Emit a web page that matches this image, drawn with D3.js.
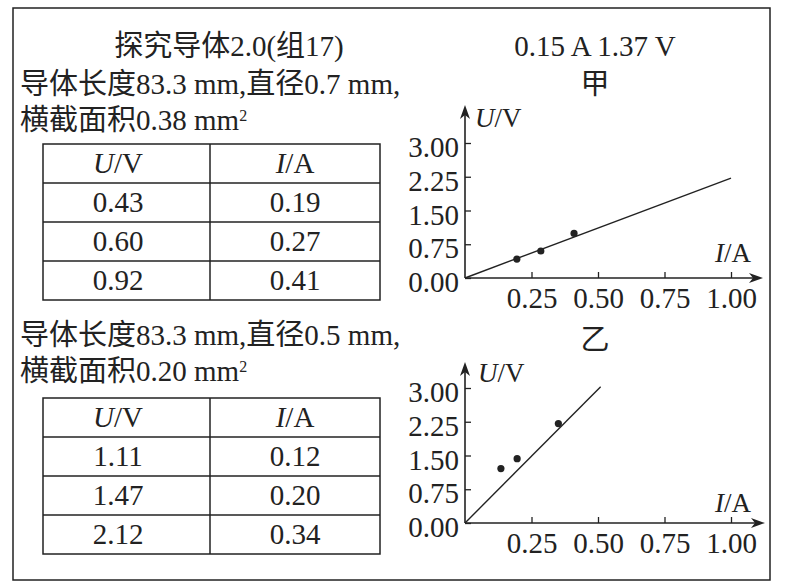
<!DOCTYPE html>
<html>
<head>
<meta charset="utf-8">
<script src="https://cdn.jsdelivr.net/npm/d3@7"></script>
<style>
  body { margin: 0; background: #fff; }
  text {
    font-family: "Liberation Serif", "Noto Sans CJK SC", serif;
    font-size: 29px;
    fill: #222;
  }
  .axis text { font-size: 29px; }
  .axis-title { font-size: 27px; }
</style>
</head>
<body>
<svg id="fig"></svg>
<script>
// Set svg size.
const width = 786;
const height = 588;

// Tick values shared by both plots.
const xTicks = [0.25, 0.50, 0.75, 1.00];
const yTicks = [0.00, 0.75, 1.50, 2.25, 3.00];

// Table header: italic symbol + unit.
const tableHeaders = [["U", "/V"], ["I", "/A"]];

// Group 甲 (diameter 0.7 mm), points as plotted in the figure.
const tableA_U = ["0.43", "0.60", "0.92"];
const tableA_I = ["0.19", "0.27", "0.41"];
const pointsA_I = [0.195, 0.285, 0.41];
const pointsA_U = [0.42, 0.60, 0.99];
const fitA_I = [0, 1.00];
const fitA_U = [0, 2.22];

// Group 乙 (diameter 0.5 mm), points as plotted in the figure.
const tableB_U = ["1.11", "1.47", "2.12"];
const tableB_I = ["0.12", "0.20", "0.34"];
const pointsB_I = [0.135, 0.196, 0.351];
const pointsB_U = [1.21, 1.43, 2.21];
const fitB_I = [0, 0.51];
const fitB_U = [0, 3.03];

// Text lines.
const titleText = "探究导体2.0(组17)";
const readingText = "0.15 A 1.37 V";
const descA = ["导体长度83.3 mm,直径0.7 mm,", "横截面积0.38 mm"];
const descB = ["导体长度83.3 mm,直径0.5 mm,", "横截面积0.20 mm"];
const chartNames = ["甲", "乙"];

const ink = "#222";

// Select svg.
const svg = d3.select("#fig")
  .attr("width", width)
  .attr("height", height);

/*
 * Returns a translate string for the transform attribute.
 */
function translate(x, y) {
  return "translate(" + String(x) + "," + String(y) + ")";
}

// Outer frame.
svg.append("rect")
  .attr("x", 13)
  .attr("y", 8)
  .attr("width", 757)
  .attr("height", 572)
  .attr("fill", "none")
  .attr("stroke", ink)
  .attr("stroke-width", 1.5);

drawHeadings();
drawDescription(descA, 94);
drawDescription(descB, 345);
drawTable(144, tableA_U, tableA_I);
drawTable(398, tableB_U, tableB_I);

drawChart({
  name: chartNames[0], nameY: 94,
  originY: 278, yTip: 105, xTip: 763,
  pointsI: pointsA_I, pointsU: pointsA_U,
  fitI: fitA_I, fitU: fitA_U,
  uTitle: [475, 127], iTitle: [715, 262]
});

drawChart({
  name: chartNames[1], nameY: 350,
  originY: 523, yTip: 362, xTip: 765,
  pointsI: pointsB_I, pointsU: pointsB_U,
  fitI: fitB_I, fitU: fitB_U,
  uTitle: [478, 382], iTitle: [715, 512]
});

/*
 * Title and the meter reading at the top.
 */
function drawHeadings() {
  svg.append("text")
    .attr("x", 229)
    .attr("y", 56)
    .attr("text-anchor", "middle")
    .text(titleText);

  svg.append("text")
    .attr("x", 595)
    .attr("y", 56)
    .attr("text-anchor", "middle")
    .text(readingText);
}

/*
 * Two description lines, second one ends with a squared unit.
 */
function drawDescription(lines, baseline) {
  svg.append("text")
    .attr("x", 20)
    .attr("y", baseline)
    .text(lines[0]);

  let second = svg.append("text")
    .attr("x", 20)
    .attr("y", baseline + 36);
  second.append("tspan").text(lines[1]);
  second.append("tspan")
    .attr("dy", -9)
    .style("font-size", "16px")
    .text("2");
}

/*
 * Draw a 2 column table with header row.
 */
function drawTable(top, uValues, iValues) {
  let g = svg.append("g").attr("class", "table");

  let rows = d3.scaleBand()
    .domain(d3.range(uValues.length + 1))
    .range([top, top + 156]);

  let cols = d3.scaleOrdinal()
    .domain([0, 1])
    .range([118, 295]);

  // border
  g.append("rect")
    .attr("x", 43)
    .attr("y", top)
    .attr("width", 337)
    .attr("height", 156)
    .attr("fill", "none")
    .attr("stroke", ink)
    .attr("stroke-width", 1.5);

  // row lines
  g.selectAll("line.row")
    .data(d3.range(1, uValues.length + 1))
    .enter()
    .append("line")
    .attr("class", "row")
    .attr("x1", 43)
    .attr("x2", 380)
    .attr("y1", d => rows(d))
    .attr("y2", d => rows(d))
    .attr("stroke", ink)
    .attr("stroke-width", 1.5);

  // column divider
  g.append("line")
    .attr("x1", 210)
    .attr("x2", 210)
    .attr("y1", top)
    .attr("y2", top + 156)
    .attr("stroke", ink)
    .attr("stroke-width", 1.5);

  // header
  tableHeaders.forEach((h, i) => {
    let t = g.append("text")
      .attr("x", cols(i))
      .attr("y", rows(0) + 29)
      .attr("text-anchor", "middle");
    t.append("tspan").style("font-style", "italic").text(h[0]);
    t.append("tspan").text(h[1]);
  });

  // values
  uValues.forEach((u, i) => {
    g.append("text")
      .attr("x", cols(0))
      .attr("y", rows(i + 1) + 29)
      .attr("text-anchor", "middle")
      .text(u);
    g.append("text")
      .attr("x", cols(1))
      .attr("y", rows(i + 1) + 29)
      .attr("text-anchor", "middle")
      .text(iValues[i]);
  });
}

/*
 * Draw one U-I plot with arrowed axes, points and fit line.
 */
function drawChart(cfg) {
  const originX = 465;

  let x = d3.scaleLinear()
    .domain([0, 1])
    .range([originX, originX + 266]);

  let y = d3.scaleLinear()
    .domain([0, 3])
    .range([cfg.originY, cfg.originY - 135]);

  let g = svg.append("g").attr("class", "chart");

  // chart name
  g.append("text")
    .attr("x", 595)
    .attr("y", cfg.nameY)
    .attr("text-anchor", "middle")
    .text(cfg.name);

  // axes
  let xAxis = d3.axisBottom(x)
    .tickValues(xTicks)
    .tickFormat(d3.format(".2f"))
    .tickSize(-6)
    .tickSizeOuter(0);

  let yAxis = d3.axisLeft(y)
    .tickValues(yTicks)
    .tickFormat(d3.format(".2f"))
    .tickSize(-6)
    .tickSizeOuter(0);

  let xg = g.append("g")
    .attr("class", "axis")
    .attr("transform", translate(0, cfg.originY))
    .style("color", ink)
    .call(xAxis);
  xg.select(".domain").remove();
  xg.selectAll(".tick line").attr("stroke-width", 1.3);
  xg.selectAll(".tick text").attr("y", 30).attr("dy", 0);

  let yg = g.append("g")
    .attr("class", "axis")
    .attr("transform", translate(originX, 0))
    .style("color", ink)
    .call(yAxis);
  yg.select(".domain").remove();
  yg.selectAll(".tick line").attr("stroke-width", 1.3);
  yg.selectAll(".tick text").attr("x", -6).attr("dy", 13.5);

  // axis lines with arrow heads
  g.append("line")
    .attr("x1", originX).attr("y1", cfg.originY)
    .attr("x2", cfg.xTip - 8).attr("y2", cfg.originY)
    .attr("stroke", ink).attr("stroke-width", 1.6);
  g.append("path")
    .attr("d", d3.line()([[cfg.xTip, cfg.originY], [cfg.xTip - 14, cfg.originY - 5],
      [cfg.xTip - 10, cfg.originY], [cfg.xTip - 14, cfg.originY + 5]]) + "Z")
    .attr("fill", ink);

  g.append("line")
    .attr("x1", originX).attr("y1", cfg.originY)
    .attr("x2", originX).attr("y2", cfg.yTip + 8)
    .attr("stroke", ink).attr("stroke-width", 1.6);
  g.append("path")
    .attr("d", d3.line()([[originX, cfg.yTip], [originX - 5, cfg.yTip + 14],
      [originX, cfg.yTip + 10], [originX + 5, cfg.yTip + 14]]) + "Z")
    .attr("fill", ink);

  // axis titles
  let ut = g.append("text")
    .attr("class", "axis-title")
    .attr("x", cfg.uTitle[0])
    .attr("y", cfg.uTitle[1]);
  ut.append("tspan").style("font-style", "italic").text("U");
  ut.append("tspan").text("/V");

  let it = g.append("text")
    .attr("class", "axis-title")
    .attr("x", cfg.iTitle[0])
    .attr("y", cfg.iTitle[1]);
  it.append("tspan").style("font-style", "italic").text("I");
  it.append("tspan").text("/A");

  // fit line
  let fit = cfg.fitI.map((d, i) => [d, cfg.fitU[i]]);
  g.append("path")
    .attr("d", d3.line().x(d => x(d[0])).y(d => y(d[1]))(fit))
    .attr("fill", "none")
    .attr("stroke", ink)
    .attr("stroke-width", 1.4);

  // measured points
  g.selectAll("circle")
    .data(cfg.pointsI.map((d, i) => [d, cfg.pointsU[i]]))
    .enter()
    .append("circle")
    .attr("cx", d => x(d[0]))
    .attr("cy", d => y(d[1]))
    .attr("r", 3.6)
    .attr("fill", ink);
}
</script>
</body>
</html>
